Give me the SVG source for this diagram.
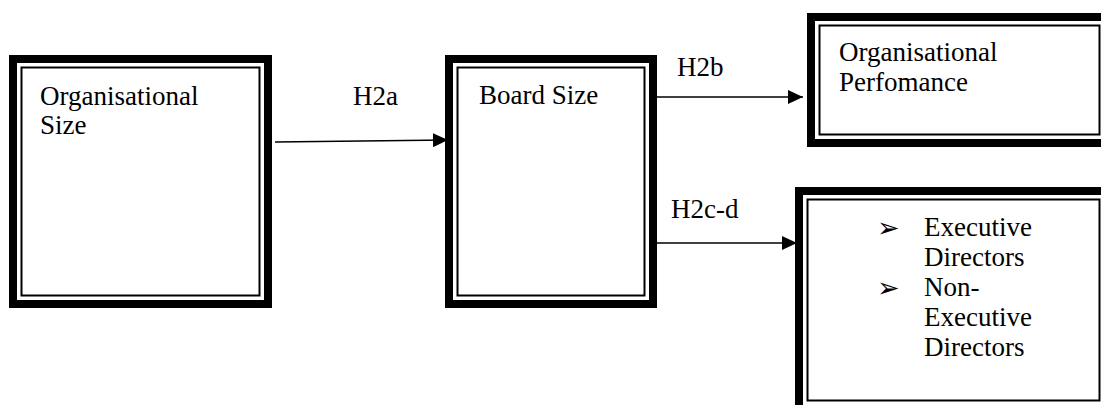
<svg xmlns="http://www.w3.org/2000/svg" width="1101" height="405" viewBox="0 0 1101 405">
  <style>
    .thick { fill: #ffffff; stroke: #000000; stroke-width: 8; }
    .thin { fill: none; stroke: #000000; stroke-width: 2; }
    .lbl { font-family: "Liberation Serif", "Times New Roman", serif; font-size: 27px; fill: #000000; }
    .bul { font-family: "DejaVu Sans", sans-serif; font-size: 27px; fill: #000000; }
    .conn { stroke: #000000; stroke-width: 1.6; fill: none; marker-end: url(#ah); }
  </style>
  <defs>
    <marker id="ah" markerUnits="userSpaceOnUse" markerWidth="16" markerHeight="14" refX="15" refY="7" orient="auto">
      <path d="M0,0 L15,7 L0,14 Z" fill="#000000"/>
    </marker>
  </defs>
  <rect x="0" y="0" width="1101" height="405" fill="#ffffff"/>

  <g id="node-org-size">
    <rect class="thick" x="13" y="59" width="255" height="245"/>
    <rect class="thin" x="21.5" y="67.5" width="238" height="228"/>
    <text class="lbl" x="40" y="105">Organisational</text>
    <text class="lbl" x="40" y="134">Size</text>
  </g>

  <g id="node-board-size">
    <rect class="thick" x="449" y="59" width="204" height="245"/>
    <rect class="thin" x="457.5" y="67.5" width="187" height="228"/>
    <text class="lbl" x="479" y="104">Board Size</text>
  </g>

  <g id="node-org-performance">
    <rect class="thick" x="811" y="17" width="297" height="126"/>
    <rect class="thin" x="819.5" y="25.5" width="280" height="109"/>
    <text class="lbl" x="839" y="61">Organisational</text>
    <text class="lbl" x="839" y="91">Perfomance</text>
  </g>

  <g id="node-directors">
    <rect class="thick" x="799" y="191" width="309" height="218"/>
    <rect class="thin" x="807.5" y="199.5" width="292" height="201"/>
    <text class="bul" x="877" y="237">➢</text>
    <text class="lbl" x="924" y="236">Executive</text>
    <text class="lbl" x="924" y="266">Directors</text>
    <text class="bul" x="877" y="297">➢</text>
    <text class="lbl" x="924" y="296">Non-</text>
    <text class="lbl" x="924" y="326">Executive</text>
    <text class="lbl" x="924" y="356">Directors</text>
  </g>

  <g id="connectors">
    <line class="conn" x1="275" y1="142" x2="448" y2="140"/>
    <line class="conn" x1="657" y1="97" x2="803" y2="97"/>
    <line class="conn" x1="657" y1="243" x2="797" y2="243"/>
    <text class="lbl" x="353" y="105">H2a</text>
    <text class="lbl" x="677" y="76">H2b</text>
    <text class="lbl" x="671" y="218">H2c-d</text>
  </g>
</svg>
